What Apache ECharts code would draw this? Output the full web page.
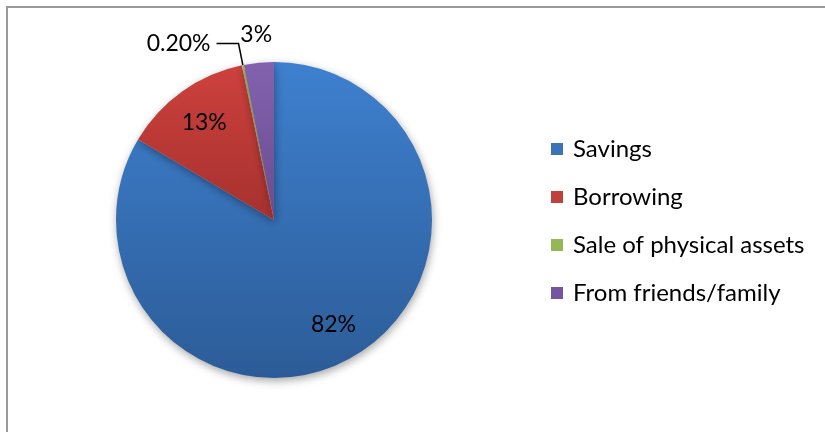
<!DOCTYPE html>
<html>
<head>
<meta charset="utf-8">
<script src="https://cdn.jsdelivr.net/npm/echarts@6/dist/echarts.min.js"></script>
<style>
html,body{margin:0;padding:0;background:#fff;overflow:hidden;}
#chart{position:absolute;left:0;top:0;width:825px;height:432px;}
#frame{position:absolute;left:6px;top:6px;width:900px;height:500px;border-left:2px solid #9a9a9a;border-top:2px solid #9a9a9a;pointer-events:none;}
</style>
</head>
<body>
<div id="chart"></div>
<div id="frame"></div>
<script>
const categories = ['Savings', 'Borrowing', 'Sale of physical assets', 'From friends/family'];
const values = [82, 13, 0.2, 3];
const valueLabels = ['82%', '13%', '0.20%', '3%'];

const gradients = [
  ['#3E80CF', '#2C5C97'],
  ['#CD413D', '#A6312E'],
  ['#A2C35E', '#8DAB4F'],
  ['#8262AE', '#6A4C8F']
];
const legendColors = ['#3A73B8', '#C0403C', '#95B754', '#7554A0'];
const FONT = 'Lato';

function grad(c) {
  return new echarts.graphic.LinearGradient(0, 0, 0, 1, [
    { offset: 0, color: c[0] }, { offset: 1, color: c[1] }
  ]);
}

const center = [274, 220];
const R = 158;

const visibleData = categories.map((name, i) => ({
  name: name,
  value: values[i],
  itemStyle: { color: grad(gradients[i]) },
  label: i === 2 ? { show: true } : { show: false },
  labelLine: i === 2 ? { show: true } : { show: false }
}));

function labelSeries(radius, showIdx, pad) {
  return {
    type: 'pie',
    radius: radius,
    center: center,
    startAngle: 90,
    clockwise: true,
    silent: true,
    legendHoverLink: false,
    emphasis: { disabled: true },
    itemStyle: { color: 'rgba(0,0,0,0)', borderWidth: 0 },
    label: {
      show: true,
      position: 'inside',
      color: '#000',
      fontFamily: FONT,
      fontSize: 23,
      padding: pad,
      formatter: p => valueLabels[p.dataIndex]
    },
    labelLine: { show: false },
    data: categories.map((name, i) => ({
      name: name,
      value: values[i],
      label: { show: showIdx.indexOf(i) >= 0 }
    })),
    z: 5
  };
}

const chart = echarts.init(document.getElementById('chart'), null, { renderer: 'canvas' });
chart.setOption({
  animation: false,
  backgroundColor: 'transparent',
  color: legendColors,
  legend: {
    orient: 'vertical',
    left: 546,
    top: 131,
    icon: 'rect',
    itemWidth: 12,
    itemHeight: 12,
    itemGap: 22,
    selectedMode: false,
    data: categories.map((n, i) => ({ name: n, itemStyle: { color: legendColors[i] } })),
    textStyle: { color: '#000', fontFamily: FONT, fontSize: 24, lineHeight: 26, padding: [0, 0, 0, 5] }
  },
  series: [
    {
      type: 'pie',
      radius: R,
      center: center,
      startAngle: 90,
      clockwise: true,
      silent: true,
      avoidLabelOverlap: false,
      itemStyle: {
        borderWidth: 0,
        shadowBlur: 8,
        shadowOffsetX: 1,
        shadowOffsetY: 3,
        shadowColor: 'rgba(0,0,0,0.35)'
      },
      label: {
        position: 'outside',
        color: '#000',
        fontFamily: FONT,
        fontSize: 23,
        distanceToLabelLine: 6,
        padding: [0, 0, 10, 0],
        formatter: p => valueLabels[p.dataIndex]
      },
      labelLine: {
        length: 22,
        length2: 22,
        lineStyle: { color: '#000', width: 1.5 }
      },
      data: visibleData,
      z: 2
    },
    labelSeries(234, [0, 1], [4, 0, 0, 0]),
    labelSeries(366, [3], [6, 0, 0, 0])
  ]
});
</script>
</body>
</html>
